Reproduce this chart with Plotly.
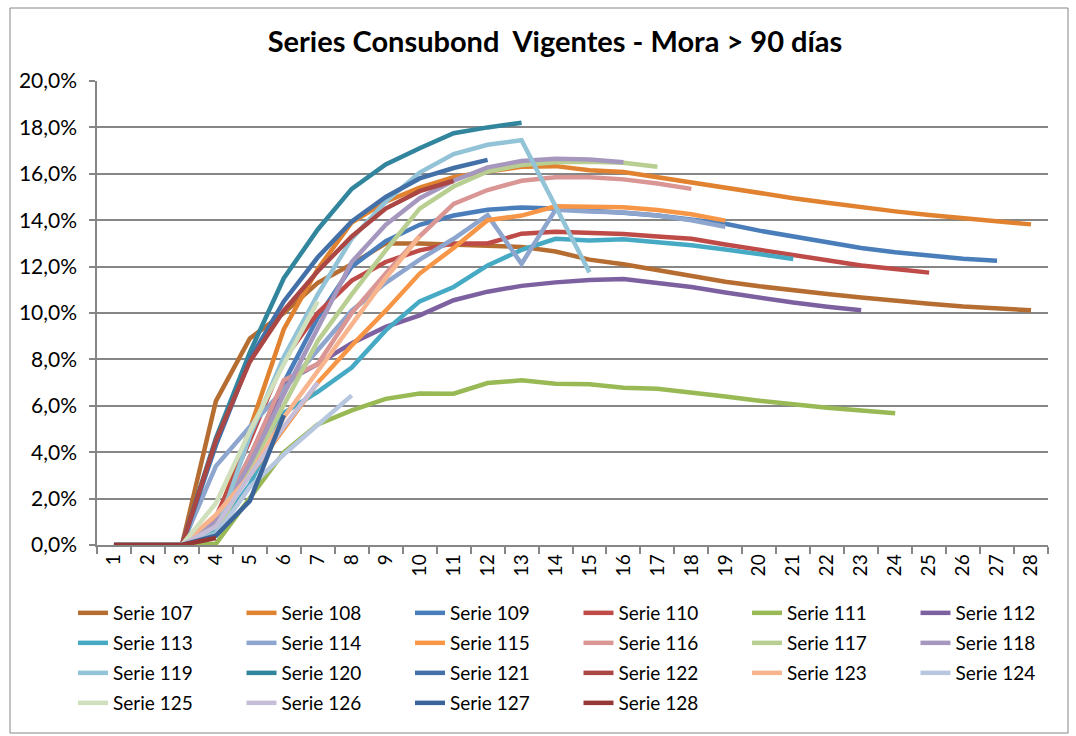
import plotly.graph_objects as go

categories = [str(i) for i in range(1, 29)]
y_ticks = [0, 2, 4, 6, 8, 10, 12, 14, 16, 18, 20]
y_tick_labels = ["0,0%", "2,0%", "4,0%", "6,0%", "8,0%", "10,0%", "12,0%", "14,0%", "16,0%", "18,0%", "20,0%"]

N = None
s107 = [0, 0, 0, 6.2, 8.9, 10.0, 11.3, 12.1, 13.0, 13.0, 12.95, 12.9, 12.85, 12.65, 12.3, 12.1, 11.85, 11.6, 11.35, 11.15, 10.97, 10.82, 10.67, 10.52, 10.4, 10.28, 10.18, 10.12]
s108 = [0, 0, 0, 1.0, 5.0, 9.3, 11.9, 13.9, 14.8, 15.4, 15.85, 16.1, 16.3, 16.33, 16.15, 16.08, 15.85, 15.66, 15.42, 15.17, 14.95, 14.75, 14.55, 14.38, 14.22, 14.08, 13.95, 13.82]
s109 = [0, 0, 0, 0.8, 3.8, 7.0, 9.8, 12.0, 13.1, 13.8, 14.2, 14.45, 14.55, 14.5, 14.42, 14.32, 14.2, 14.02, 13.85, 13.55, 13.3, 13.05, 12.8, 12.62, 12.46, 12.34, 12.25, N]
s110 = [0, 0, 0, 1.2, 4.5, 8.0, 10.0, 11.4, 12.2, 12.7, 13.0, 13.0, 13.42, 13.5, 13.45, 13.4, 13.3, 13.2, 12.95, 12.72, 12.47, 12.25, 12.05, 11.9, 11.74, N, N, N]
s111 = [0, 0, 0, 0.05, 2.0, 4.0, 5.2, 5.8, 6.3, 6.53, 6.52, 6.98, 7.1, 6.95, 6.93, 6.78, 6.73, 6.58, 6.4, 6.22, 6.05, 5.92, 5.8, 5.68, N, N, N, N]
s112 = [0, 0, 0, 0.8, 3.5, 7.0, 7.8, 8.7, 9.4, 9.9, 10.55, 10.92, 11.17, 11.32, 11.42, 11.47, 11.3, 11.12, 10.88, 10.66, 10.45, 10.27, 10.12, N, N, N, N, N]
s113 = [0, 0, 0, 0.6, 2.6, 5.7, 6.6, 7.65, 9.25, 10.5, 11.12, 12.05, 12.72, 13.2, 13.13, 13.18, 13.05, 12.92, 12.74, 12.55, 12.33, N, N, N, N, N, N, N]
s114 = [0, 0, 0, 3.4, 5.1, 6.7, 8.4, 10.1, 11.3, 12.3, 13.2, 14.22, 12.12, 14.45, 14.38, 14.33, 14.2, 14.0, 13.72, N, N, N, N, N, N, N, N, N]
s115 = [0, 0, 0, 1.2, 3.0, 5.0, 7.0, 8.6, 10.1, 11.7, 12.8, 14.0, 14.2, 14.6, 14.58, 14.56, 14.44, 14.26, 13.98, N, N, N, N, N, N, N, N, N]
s116 = [0, 0, 0, 1.0, 3.8, 7.1, 7.8, 10.0, 11.7, 13.3, 14.7, 15.3, 15.7, 15.85, 15.85, 15.76, 15.58, 15.35, N, N, N, N, N, N, N, N, N, N]
s117 = [0, 0, 0, 0.5, 3.3, 6.0, 8.8, 10.8, 12.7, 14.5, 15.45, 16.1, 16.38, 16.5, 16.52, 16.48, 16.3, N, N, N, N, N, N, N, N, N, N, N]
s118 = [0, 0, 0, 1.0, 3.5, 6.5, 9.3, 12.2, 13.8, 14.95, 15.7, 16.28, 16.55, 16.65, 16.62, 16.5, N, N, N, N, N, N, N, N, N, N, N, N]
s119 = [0, 0, 0, 0.5, 4.7, 8.1, 10.8, 13.2, 14.8, 16.05, 16.85, 17.25, 17.45, 14.6, 11.75, N, N, N, N, N, N, N, N, N, N, N, N, N]
s120 = [0, 0, 0, 4.6, 8.3, 11.5, 13.6, 15.35, 16.4, 17.1, 17.75, 18.0, 18.2, N, N, N, N, N, N, N, N, N, N, N, N, N, N, N]
s121 = [0, 0, 0, 4.3, 8.0, 10.5, 12.4, 13.95, 15.0, 15.8, 16.25, 16.6, N, N, N, N, N, N, N, N, N, N, N, N, N, N, N, N]
s122 = [0, 0, 0, 4.5, 7.9, 10.1, 11.8, 13.3, 14.5, 15.25, 15.7, N, N, N, N, N, N, N, N, N, N, N, N, N, N, N, N, N]
s123 = [0, 0, 0, 1.3, 3.0, 5.5, 7.5, 9.5, 11.5, 13.3, N, N, N, N, N, N, N, N, N, N, N, N, N, N, N, N, N, N]
s124 = [0, 0, 0, 0.4, 2.5, 3.9, 5.2, 6.45, N, N, N, N, N, N, N, N, N, N, N, N, N, N, N, N, N, N, N, N]
s125 = [0, 0, 0, 1.8, 4.9, 7.8, 10.5, N, N, N, N, N, N, N, N, N, N, N, N, N, N, N, N, N, N, N, N, N]
s126 = [0, 0, 0, 0.8, 3.0, 5.1, 7.0, N, N, N, N, N, N, N, N, N, N, N, N, N, N, N, N, N, N, N, N, N]
s127 = [0, 0, 0, 0.4, 1.9, 5.6, N, N, N, N, N, N, N, N, N, N, N, N, N, N, N, N, N, N, N, N, N, N]
s128 = [0, 0, 0, 0.3, N, N, N, N, N, N, N, N, N, N, N, N, N, N, N, N, N, N, N, N, N, N, N, N]

series_names = ["Serie 107", "Serie 108", "Serie 109", "Serie 110", "Serie 111", "Serie 112",
                "Serie 113", "Serie 114", "Serie 115", "Serie 116", "Serie 117", "Serie 118",
                "Serie 119", "Serie 120", "Serie 121", "Serie 122", "Serie 123", "Serie 124",
                "Serie 125", "Serie 126", "Serie 127", "Serie 128"]
series_values = [s107, s108, s109, s110, s111, s112, s113, s114, s115, s116, s117, s118,
                 s119, s120, s121, s122, s123, s124, s125, s126, s127, s128]
colors = ["#B66D31", "#E0822F", "#4A7EBB", "#BE4B48", "#98B954", "#7D60A0",
          "#46AAC5", "#8EA6CE", "#F79646", "#D99694", "#B9CF92", "#A597BD",
          "#93C3D6", "#31859C", "#4470A8", "#AA4644", "#F8B58D", "#B8C7E0",
          "#D0DFBC", "#C6BDD8", "#3B649A", "#953735"]

FONT = "Lato"
L, R, T, B = 97, 1048, 81, 545
W, H = 1076, 736
PW, PH = R - L, B - T


def px_to_paper_x(px):
    return (px - L) / PW


def px_to_paper_y(py):
    return (B - py) / PH


fig = go.Figure()
legend_names = ["legend", "legend2", "legend3", "legend4"]
for i, (name, vals, col) in enumerate(zip(series_names, series_values, colors)):
    fig.add_trace(go.Scatter(
        x=categories, y=vals, name=name, mode="lines",
        line=dict(color=col, width=4.5),
        connectgaps=False,
        legend=legend_names[i // 6],
    ))

row_centers = [613, 643, 673, 703]
legend_left_px = 73
layout_legends = {}
for k, lname in enumerate(legend_names):
    layout_legends[lname] = dict(
        orientation="h",
        x=px_to_paper_x(legend_left_px), xanchor="left",
        y=px_to_paper_y(row_centers[k]), yanchor="middle",
        entrywidth=123.5, entrywidthmode="pixels",
        font=dict(family=FONT, size=19, color="#000000"),
        bgcolor="rgba(0,0,0,0)",
        itemclick=False, itemdoubleclick=False,
    )

fig.update_layout(
    width=W, height=H,
    margin=dict(l=L, r=W - R, t=T, b=H - B, autoexpand=False),
    paper_bgcolor="white", plot_bgcolor="white",
    separators=",.",
    showlegend=True,
    title=dict(
        text="<b>Series Consubond\u00a0 Vigentes - Mora &gt; 90 días</b>",
        x=555 / W, xanchor="center", xref="container",
        y=1 - 42 / H, yanchor="middle", yref="container",
        font=dict(family=FONT, size=29, color="#000000"),
    ),
    xaxis=dict(
        type="category",
        tickmode="array", tickvals=categories, ticktext=categories,
        tickson="boundaries", ticks="outside", ticklen=7, tickcolor="#868686", tickwidth=1.5,
        tickangle=-90,
        tickfont=dict(family=FONT, size=19, color="#000000"),
        showgrid=False,
        showline=True, linecolor="#868686", linewidth=1.5,
        zeroline=False,
        range=[-0.5, 27.5],
        fixedrange=True,
    ),
    yaxis=dict(
        range=[0, 20],
        tickmode="array", tickvals=y_ticks, ticktext=y_tick_labels,
        ticks="outside", ticklen=6, tickcolor="#868686", tickwidth=1.5,
        ticklabelstandoff=8,
        tickfont=dict(family=FONT, size=21, color="#000000"),
        showgrid=True, gridcolor="#868686", gridwidth=1.5,
        showline=True, linecolor="#868686", linewidth=1.5,
        zeroline=False,
        fixedrange=True,
    ),
    shapes=[dict(
        type="rect", xref="paper", yref="paper",
        x0=px_to_paper_x(10), x1=px_to_paper_x(1068),
        y0=px_to_paper_y(733), y1=px_to_paper_y(8),
        line=dict(color="#868686", width=1), fillcolor="rgba(0,0,0,0)",
        layer="below",
    )],
    **layout_legends,
)

fig.write_html("out.html", config={"displayModeBar": False},
               post_script="document.body.style.margin='0';")
